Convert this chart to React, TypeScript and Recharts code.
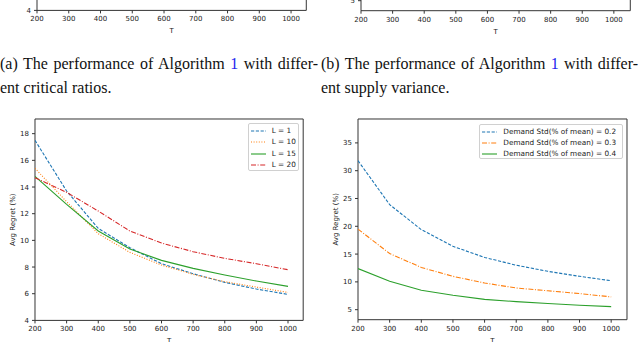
import React from 'react';
import { LineChart, Line, XAxis, YAxis, Legend, ReferenceArea } from 'recharts';

const T = [200, 300, 400, 500, 600, 700, 800, 900, 1000];

// left panel: regret for different L
const regretL1 = [17.5, 13.7, 10.9, 9.45, 8.25, 7.5, 6.85, 6.35, 5.95];
const regretL10 = [15.4, 12.9, 10.5, 9.1, 8.15, 7.45, 6.9, 6.5, 6.1];
const regretL15 = [14.8, 12.7, 10.7, 9.35, 8.5, 7.9, 7.4, 6.95, 6.55];
const regretL20 = [14.7, 13.6, 12.2, 10.7, 9.8, 9.15, 8.65, 8.25, 7.8];

// right panel: regret for different demand std
const regretStd02 = [31.8, 23.9, 19.4, 16.4, 14.4, 13.0, 11.9, 11.0, 10.2];
const regretStd03 = [19.5, 15.1, 12.6, 11.0, 9.8, 8.9, 8.4, 7.9, 7.3];
const regretStd04 = [12.4, 10.1, 8.5, 7.6, 6.85, 6.45, 6.1, 5.8, 5.55];

const yTicksL = [4, 6, 8, 10, 12, 14, 16, 18];
const yTicksStd = [5, 10, 15, 20, 25, 30, 35];
// only the lowest tick of the two upper figures is inside the picture
const yTicksUpperL = [4];
const yTicksUpperStd = [5];

const FONT = '"DejaVu Sans", sans-serif';
const FRAME = '#333';
const TEXT = '#222';
const DASHED = '3.2 1.6';
const DOTTED = '1 1.6';
const DASHDOT = '5 1.6 1 1.6';

const leadSeries = [
  { key: 'l1', name: 'L = 1', color: '#1f77b4', dash: DASHED, values: regretL1 },
  { key: 'l10', name: 'L = 10', color: '#ff7f0e', dash: DOTTED, values: regretL10 },
  { key: 'l15', name: 'L = 15', color: '#2ca02c', dash: undefined, values: regretL15 },
  { key: 'l20', name: 'L = 20', color: '#d62728', dash: DASHDOT, values: regretL20 },
];

const stdSeries = [
  { key: 's02', name: 'Demand Std(% of mean) = 0.2', color: '#1f77b4', dash: DASHED, values: regretStd02 },
  { key: 's03', name: 'Demand Std(% of mean) = 0.3', color: '#ff7f0e', dash: DASHDOT, values: regretStd03 },
  { key: 's04', name: 'Demand Std(% of mean) = 0.4', color: '#2ca02c', dash: undefined, values: regretStd04 },
];

const AXIS_W = 40;
const AXIS_H = 36;
const MARGIN_T = 10;
const MARGIN_R = 12;

function LegendBox({ series, box }: any) {
  return (
    <div
      style={{
        width: box.width,
        height: box.height,
        boxSizing: 'border-box',
        border: '1px solid #d0d0d0',
        borderRadius: 2,
        background: 'rgba(255,255,255,0.8)',
        padding: '1px 0 0 2px',
      }}
    >
      {series.map((s: any) => (
        <div key={s.key} style={{ display: 'flex', alignItems: 'center', height: 11.3 }}>
          <svg width={15} height={4} style={{ display: 'block' }}>
            <line x1={0} y1={2} x2={15} y2={2} stroke={s.color} strokeWidth={1.1} strokeDasharray={s.dash} />
          </svg>
          <span style={{ marginLeft: 6, fontSize: 7.3, fontFamily: FONT, color: TEXT, lineHeight: '8px', whiteSpace: 'nowrap' }}>
            {s.name}
          </span>
        </div>
      ))}
    </div>
  );
}

function Panel({ plot, xDomain, yDomain, yTicks, series, legend, yLabelX }: any) {
  const chartLeft = plot.left - AXIS_W;
  const chartTop = plot.top - MARGIN_T;
  const width = plot.right - plot.left + AXIS_W + MARGIN_R;
  const height = plot.bottom - plot.top + MARGIN_T + AXIS_H;
  const data = T.map((t, i) => {
    const row: any = { T: t };
    series.forEach((s: any) => (row[s.key] = s.values[i]));
    return row;
  });
  const tick = { fontSize: 7, fontFamily: FONT, fill: TEXT };

  return (
    <div style={{ position: 'absolute', left: chartLeft, top: chartTop }}>
      <LineChart width={width} height={height} data={data} margin={{ top: MARGIN_T, right: MARGIN_R, bottom: 0, left: 0 }}>
        <XAxis
          dataKey="T"
          type="number"
          domain={xDomain}
          ticks={T}
          allowDataOverflow
          height={AXIS_H}
          axisLine={false}
          tickLine={{ stroke: FRAME }}
          tickSize={3}
          tickMargin={3}
          tick={tick}
          label={{ value: 'T', position: 'insideBottom', offset: AXIS_H - 23, style: { fontSize: 7, fontFamily: FONT, fill: TEXT } }}
        />
        <YAxis
          type="number"
          domain={yDomain}
          ticks={yTicks}
          allowDataOverflow
          width={AXIS_W}
          axisLine={false}
          tickLine={{ stroke: FRAME }}
          tickSize={3}
          tickMargin={3}
          tick={tick}
          label={
            yLabelX != null
              ? {
                  value: 'Avg Regret (%)',
                  angle: -90,
                  position: 'insideLeft',
                  offset: yLabelX - chartLeft,
                  style: { textAnchor: 'middle', fontSize: 7, fontFamily: FONT, fill: TEXT },
                }
              : undefined
          }
        />
        <ReferenceArea
          x1={xDomain[0]}
          x2={xDomain[1]}
          y1={yDomain[0]}
          y2={yDomain[1]}
          fill="none"
          stroke={FRAME}
          strokeWidth={1}
          ifOverflow="visible"
        />
        {series.map((s: any) => (
          <Line
            key={s.key}
            type="linear"
            dataKey={s.key}
            name={s.name}
            stroke={s.color}
            strokeWidth={1.1}
            strokeDasharray={s.dash}
            dot={false}
            isAnimationActive={false}
          />
        ))}
        {legend && (
          <Legend
            layout="vertical"
            align="center"
            verticalAlign="middle"
            wrapperStyle={{ left: legend.left - chartLeft, top: legend.top - chartTop, width: legend.width, height: legend.height }}
            content={() => <LegendBox series={series} box={legend} />}
          />
        )}
      </LineChart>
    </div>
  );
}

function Caption({ left, width, tag, ending }: any) {
  const base: React.CSSProperties = {
    position: 'absolute',
    left,
    fontFamily: '"Liberation Serif", serif',
    fontSize: 16,
    lineHeight: '16px',
    color: '#111',
  };
  return (
    <>
      <div style={{ ...base, top: 56, width, textAlign: 'justify', textAlignLast: 'justify' }}>
        ({tag}) The performance of Algorithm <span style={{ color: '#2323ee' }}>1</span> with differ-
      </div>
      <div style={{ ...base, top: 79.6 }}>{ending}</div>
    </>
  );
}

export default function App() {
  return (
    <div style={{ position: 'relative', width: 640, height: 342, overflow: 'hidden', background: '#fff' }}>
      <style>{'body{margin:0}'}</style>

      {/* bottoms of the two upper figures */}
      <Panel
        plot={{ left: 36.7, right: 306, top: -190.7, bottom: 10.7 }}
        xDomain={[200, 1048]}
        yDomain={[4, 19.1]}
        yTicks={yTicksUpperL}
        series={[]}
      />
      <Panel
        plot={{ left: 360.7, right: 630, top: -190, bottom: 10.7 }}
        xDomain={[200, 1052]}
        yDomain={[3.2, 39.3]}
        yTicks={yTicksUpperStd}
        series={[]}
      />

      <Caption left={0} width={318} tag="a" ending="ent critical ratios." />
      <Caption left={321} width={317} tag="b" ending="ent supply variance." />

      <Panel
        plot={{ left: 34.5, right: 302.7, top: 119.3, bottom: 320.7 }}
        xDomain={[200, 1048]}
        yDomain={[4, 19.1]}
        yTicks={yTicksL}
        series={leadSeries}
        yLabelX={12.3}
        legend={{ left: 247.7, top: 123.3, width: 51.6, height: 47.7 }}
      />
      <Panel
        plot={{ left: 357.7, right: 626.7, top: 119.3, bottom: 320 }}
        xDomain={[200, 1050]}
        yDomain={[3.2, 39.3]}
        yTicks={yTicksStd}
        series={stdSeries}
        yLabelX={335}
        legend={{ left: 479.3, top: 124, width: 143.4, height: 35.3 }}
      />
    </div>
  );
}
